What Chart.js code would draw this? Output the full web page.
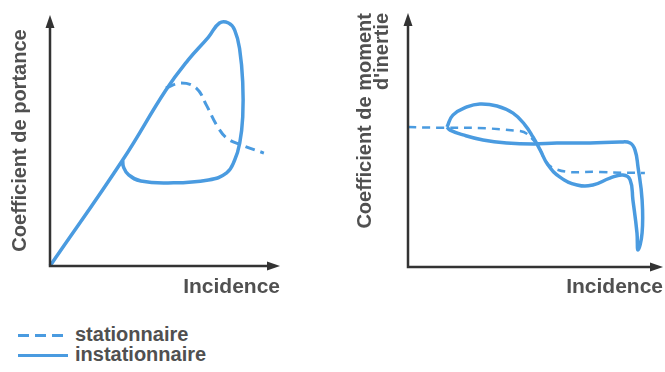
<!DOCTYPE html>
<html>
<head>
<meta charset="utf-8">
<script src="https://cdn.jsdelivr.net/npm/chart.js@4"></script>
<style>
  body { margin:0; background:#fff; width:665px; height:372px; position:relative; overflow:hidden;
         font-family:'Liberation Sans', Arial, sans-serif; }
  .box { position:absolute; top:0; height:305px; }
  .leg { position:absolute; left:18px; font-weight:bold; font-size:20px; color:#505050; }
  .leg span.s { display:inline-block; width:50px; height:3px; vertical-align:middle; margin-right:7px; }
</style>
</head>
<body>
<div class="box" style="left:0;width:290px"><canvas id="cLift"></canvas></div>
<div class="box" style="left:330px;width:335px"><canvas id="cMoment"></canvas></div>

<div class="leg" style="top:323px"><span class="s" style="background:repeating-linear-gradient(90deg,#4a9be0 0 11px,transparent 11px 17px)"></span>stationnaire</div>
<div class="leg" style="top:343px"><span class="s" style="background:#4a9be0"></span>instationnaire</div>

<script>
// ─── DONNÉES (unités arbitraires 0–100) ───
// portance, instationnaire (boucle d'hystérésis)
const liftUnsteadyX = [0, 31.6, 50.4, 60.1, 68.9, 73.7, 77.6, 80.3, 82.5, 83.8, 83.8, 82.5, 80.3, 76.8, 68.9, 51.3, 39.5, 34.2, 32.0, 31.6];
const liftUnsteadyY = [0, 42.2, 70.1, 82.1, 91.2, 96.8, 96.8, 94.0, 86.1, 72.9, 59.4, 49.0, 42.2, 37.1, 34.3, 33.1, 33.9, 36.3, 39.4, 42.2];
// portance, stationnaire
const liftSteadyX = [50.4, 57.0, 63.6, 68.0, 72.4, 76.8, 83.3, 93.0];
const liftSteadyY = [70.9, 72.9, 70.9, 64.1, 56.2, 51.0, 48.2, 45.0];

// moment, instationnaire
const momUnsteadyX = [15.3, 17.6, 23.1, 28.2, 34.9, 41.2, 45.9, 49.0, 51.8, 54.9, 59.6, 66.3, 72.5, 79.2, 84.3, 87.1, 88.2, 89.8, 90.2, 91.8, 91.8, 90.2, 89.0, 87.1, 83.1, 71.4, 58.4, 49.0, 38.8, 29.4, 21.6, 16.5, 15.3];
const momUnsteadyY = [55.1, 59.8, 63.0, 64.2, 63.4, 60.6, 55.9, 51.2, 46.1, 40.2, 35.4, 32.3, 32.3, 35.0, 36.2, 34.3, 26.4, 13.4, 6.7, 13.4, 26.4, 39.4, 46.1, 48.8, 49.2, 48.8, 48.8, 48.4, 48.8, 50.0, 52.0, 53.9, 55.1];
// moment, stationnaire
const momSteadyX = [0, 43.9, 49.8, 56.9, 75.3, 92.9];
const momSteadyY = [55.1, 53.5, 49.2, 39.0, 37.4, 37.0];

const BLUE = '#4a9be0';
const AXIS = '#333';
const TXT = '#505050';

const pts = (xs, ys) => xs.map((x, i) => ({x, y: ys[i]}));

// axes avec flèches
const arrowAxes = {
  id: 'arrowAxes',
  afterDraw(chart) {
    const {ctx, chartArea: a} = chart;
    ctx.save();
    ctx.strokeStyle = AXIS; ctx.fillStyle = AXIS; ctx.lineWidth = 2.5;
    ctx.beginPath();
    ctx.moveTo(a.left, a.top + 8); ctx.lineTo(a.left, a.bottom); ctx.lineTo(a.right - 8, a.bottom);
    ctx.stroke();
    ctx.beginPath();
    ctx.moveTo(a.left, a.top); ctx.lineTo(a.left - 4.5, a.top + 13); ctx.lineTo(a.left + 4.5, a.top + 13); ctx.closePath();
    ctx.fill();
    ctx.beginPath();
    ctx.moveTo(a.right, a.bottom); ctx.lineTo(a.right - 13, a.bottom - 4.5); ctx.lineTo(a.right - 13, a.bottom + 4.5); ctx.closePath();
    ctx.fill();
    ctx.restore();
  }
};

function makeChart(id, steady, unsteady, cfg) {
  return new Chart(document.getElementById(id), {
    type: 'scatter',
    data: { datasets: [
      { label: 'instationnaire', data: unsteady, showLine: true, borderColor: BLUE, borderWidth: 3.5,
        pointRadius: 0, tension: 0.45, clip: 12 },
      { label: 'stationnaire', data: steady, showLine: true, borderColor: BLUE, borderWidth: cfg.dashW,
        borderDash: cfg.dash, pointRadius: 0, tension: 0.4, clip: 12 }
    ]},
    options: {
      responsive: true, maintainAspectRatio: false, animation: false,
      layout: { padding: cfg.pad },
      plugins: { legend: { display: false }, tooltip: { enabled: false } },
      scales: {
        x: { type: 'linear', min: 0, max: 100, grid: { display: false }, border: { display: false },
             ticks: { display: false },
             title: { display: true, text: 'Incidence', align: 'end', color: TXT,
                      font: { family: 'Liberation Sans', size: 21, weight: 'bold' }, padding: { top: 0, bottom: 5 } },
             afterFit: s => { s.height = cfg.xh; } },
        y: { type: 'linear', min: 0, max: 100, grid: { display: false }, border: { display: false },
             ticks: { display: false },
             title: { display: true, text: cfg.yTitle, align: cfg.yAlign, color: TXT,
                      font: { family: 'Liberation Sans', size: 20, weight: 'bold', lineHeight: cfg.yLH },
                      padding: { top: cfg.yPad, bottom: 0 } },
             afterFit: s => { s.width = cfg.yw; } }
      }
    },
    plugins: [arrowAxes]
  });
}

makeChart('cLift', pts(liftSteadyX, liftSteadyY), pts(liftUnsteadyX, liftUnsteadyY), {
  pad: { top: 15, right: 10, left: 0, bottom: 0 }, xh: 39, yw: 50,
  yTitle: 'Coefficient de portance', yAlign: 'center', yLH: 1.2, yPad: 8,
  dash: [10, 6], dashW: 3
});

makeChart('cMoment', pts(momSteadyX, momSteadyY), pts(momUnsteadyX, momUnsteadyY), {
  pad: { top: 13, right: 2, left: 0, bottom: 0 }, xh: 38, yw: 78,
  yTitle: ['Coefficient de moment', "d'inertie"], yAlign: 'end', yLH: 0.85, yPad: 27,
  dash: [8, 6], dashW: 2.5
});
</script>
</body>
</html>
